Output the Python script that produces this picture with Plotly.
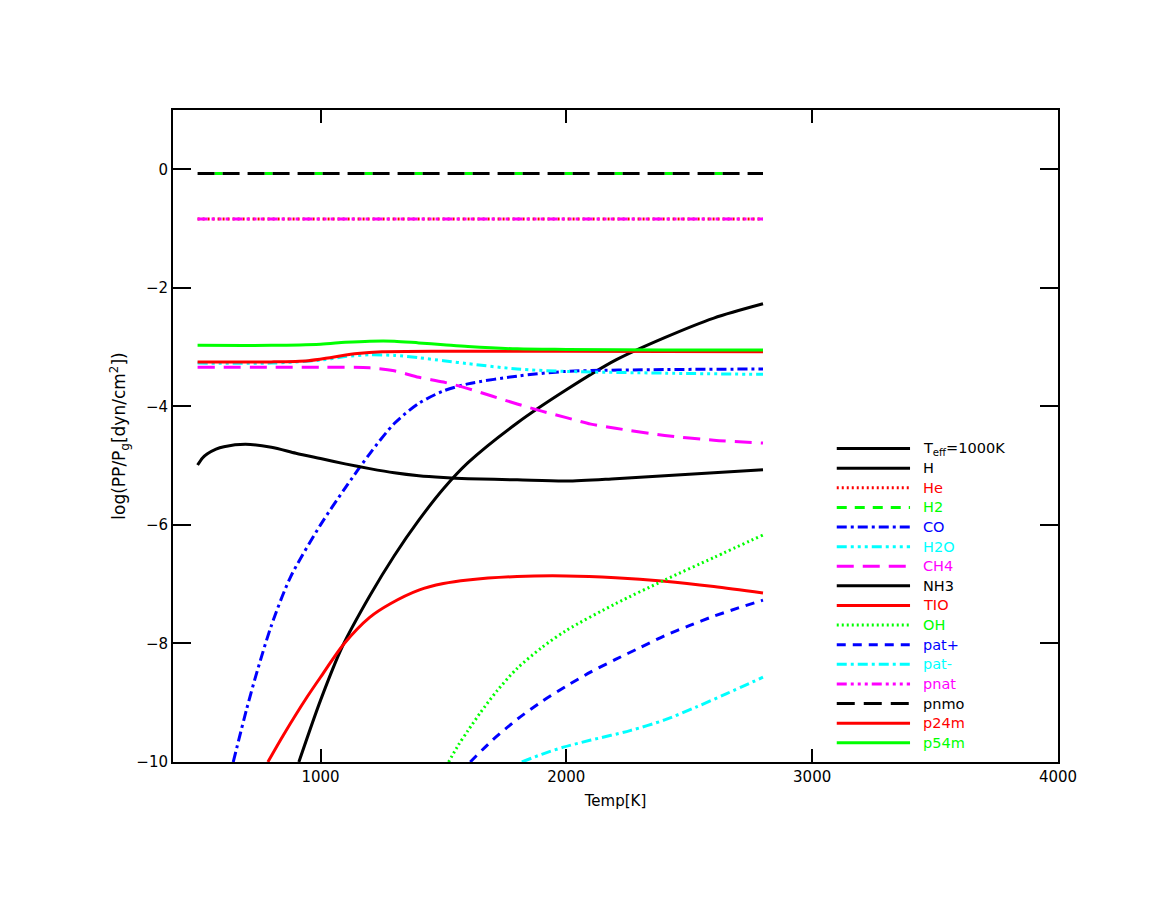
import plotly.graph_objects as go

# temperature grids [K] and log partial pressures
t_flat = [500, 2800]
h2 = [-0.07, -0.07]
pnmo = [-0.07, -0.07]
he = [-0.84, -0.84]
pnat = [-0.84, -0.84]

t_h = [912, 1000, 1088, 1200, 1300, 1400, 1500, 1600, 1800, 2000, 2200, 2400, 2600, 2800]
h = [-10.0, -8.96, -8.06, -7.20, -6.52, -5.92, -5.39, -4.95, -4.28, -3.72, -3.22, -2.84, -2.51, -2.27]

t_co = [645, 700, 743, 800, 878, 1000, 1100, 1200, 1300, 1400, 1500, 1600, 1800, 2000, 2400, 2800]
co = [-10.0, -9.1, -8.46, -7.7, -6.88, -6.0, -5.38, -4.80, -4.29, -3.95, -3.74, -3.62, -3.49, -3.41, -3.38, -3.37]

t_up = [500, 800, 1000, 1100, 1200, 1300, 1400, 1500, 1600, 1800, 2000, 2400, 2800]
h2o = [-3.27, -3.27, -3.22, -3.16, -3.13, -3.14, -3.18, -3.23, -3.28, -3.37, -3.41, -3.44, -3.46]
p54m = [-2.97, -2.97, -2.95, -2.92, -2.90, -2.90, -2.93, -2.96, -2.99, -3.03, -3.04, -3.05, -3.05]

t_p24 = [500, 800, 950, 1050, 1150, 1250, 1500, 2000, 2800]
p24m = [-3.25, -3.25, -3.23, -3.17, -3.11, -3.08, -3.07, -3.07, -3.08]

t_ch4 = [500, 1000, 1200, 1300, 1400, 1500, 1600, 1700, 1800, 1900, 2000, 2100, 2200, 2400, 2600, 2800]
ch4 = [-3.34, -3.34, -3.35, -3.40, -3.51, -3.59, -3.70, -3.83, -3.96, -4.08, -4.19, -4.30, -4.37, -4.49, -4.57, -4.62]

t_nh3 = [500, 520, 540, 575, 607, 695, 800, 900, 1000, 1100, 1200, 1300, 1400, 1500, 1600, 1800, 2000, 2200, 2400, 2600, 2800]
nh3 = [-4.99, -4.87, -4.80, -4.72, -4.68, -4.64, -4.69, -4.79, -4.88, -4.97, -5.05, -5.12, -5.17, -5.20, -5.22, -5.24, -5.26, -5.22, -5.17, -5.12, -5.07]

t_tio = [786, 850, 946, 1000, 1095, 1200, 1284, 1400, 1500, 1600, 1800, 2000, 2200, 2400, 2600, 2800]
tio = [-10.0, -9.54, -8.90, -8.57, -8.01, -7.56, -7.33, -7.10, -6.99, -6.93, -6.87, -6.86, -6.89, -6.95, -7.04, -7.15]

t_oh = [1521, 1560, 1600, 1650, 1718, 1800, 1900, 2000, 2200, 2400, 2600, 2800]
oh = [-10.0, -9.72, -9.47, -9.17, -8.80, -8.42, -8.07, -7.78, -7.33, -6.93, -6.55, -6.17]

t_patp = [1609, 1700, 1800, 1900, 2000, 2100, 2200, 2300, 2400, 2500, 2600, 2700, 2800]
patp = [-10.0, -9.63, -9.28, -8.98, -8.72, -8.48, -8.27, -8.07, -7.87, -7.70, -7.54, -7.40, -7.27]

t_patm = [1819, 1900, 1988, 2100, 2259, 2400, 2530, 2650, 2800]
patm = [-10.0, -9.87, -9.75, -9.63, -9.47, -9.29, -9.07, -8.85, -8.57]

RED, GREEN, BLUE, CYAN, MAG, BLK = "#ff0000", "#00ff00", "#0000ff", "#00ffff", "#ff00ff", "#000000"
DOT = "2px,3px"
DASH = "9px,7px"
DASHDOT = "10px,4px,3px,4px"
DASH3DOT = "10px,4px,3px,4px,3px,4px,3px,4px"
LONGDASH = "17px,9px"

# name, x, y, colour, dash  (drawn in this order)
series = [
    ("H", t_h, h, BLK, "solid"),
    ("He", t_flat, he, RED, DOT),
    ("H2", t_flat, h2, GREEN, "0px,17px,8px,25px"),
    ("CO", t_co, co, BLUE, DASHDOT),
    ("H2O", t_up, h2o, CYAN, DASH3DOT),
    ("CH4", t_ch4, ch4, MAG, LONGDASH),
    ("NH3", t_nh3, nh3, BLK, "solid"),
    ("TIO", t_tio, tio, RED, "solid"),
    ("OH", t_oh, oh, GREEN, DOT),
    ("pat+", t_patp, patp, BLUE, DASH),
    ("pat-", t_patm, patm, CYAN, DASHDOT),
    ("pnat", t_flat, pnat, MAG, DASH3DOT),
    ("pnmo", t_flat, pnmo, BLK, "17px,8px"),
    ("p24m", t_p24, p24m, RED, "solid"),
    ("p54m", t_up, p54m, GREEN, "solid"),
]

fig = go.Figure()
for name, x, y, col, dash in series:
    fig.add_scatter(x=x, y=y, mode="lines", name=name, showlegend=False,
                    line=dict(color=col, width=3, dash=dash, shape="spline", smoothing=0.8))

# hand-made legend, IDL style
legend = [("T<sub>eff</sub>=1000K", BLK, "solid")] + [
    (n, c, "18px,9px" if n == "pnmo" else ("10px,8px" if n == "H2" else d)) for n, _, _, c, d in series]
y0, step = 0.4807, 0.03008
for i, (lab, col, dash) in enumerate(legend):
    yy = y0 - i * step
    fig.add_shape(type="line", xref="paper", yref="paper", x0=0.750, x1=0.8328, y0=yy, y1=yy,
                  line=dict(color=col, width=3, dash=dash))
    fig.add_annotation(xref="paper", yref="paper", x=0.845, y=yy, text=lab, showarrow=False,
                       xanchor="left", yanchor="middle", font=dict(color=col, size=14.5))

axis_style = dict(showline=True, linecolor="black", linewidth=2, mirror="ticks", ticks="inside",
                  tickcolor="black", tickwidth=2, showgrid=False, zeroline=False,
                  tickfont=dict(size=15, color="black"))
fig.update_xaxes(range=[400, 4000], tickvals=[1000, 2000, 3000, 4000], ticklen=13,
                 title=dict(text="Temp[K]", font=dict(size=15), standoff=10), **axis_style)
fig.update_yaxes(range=[-10, 1], tickvals=[0, -2, -4, -6, -8, -10], ticklen=18,
                 title=dict(text="log(PP/P<sub>g</sub>[dyn/cm<sup>2</sup>])", font=dict(size=17), standoff=6),
                 **axis_style)
fig.update_layout(width=1166, height=901, plot_bgcolor="white", paper_bgcolor="white",
                  margin=dict(l=165, r=116, t=102, b=147, autoexpand=False),
                  font=dict(family="DejaVu Sans, Arial, sans-serif", color="black"))
fig.write_html("out.html")
